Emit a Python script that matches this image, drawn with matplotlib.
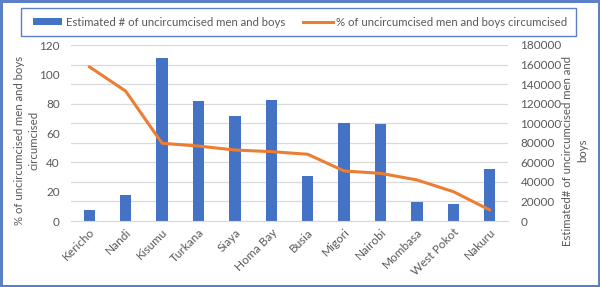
import matplotlib.pyplot as plt
from matplotlib.patches import Patch, Rectangle
from matplotlib.lines import Line2D

counties = ["Kericho", "Nandi", "Kisumu", "Turkana", "Siaya", "Homa Bay", "Busia",
            "Migori", "Nairobi", "Mombasa", "West Pokot", "Nakuru"]
# estimated number of uncircumcised men and boys (right axis)
uncircumcised = [11250, 26800, 167000, 123000, 107000, 123400, 46300,
                 99900, 98900, 19100, 17400, 53500]
# percent of them circumcised (left axis)
pct_circumcised = [105.2, 88.6, 53.0, 51.1, 48.4, 47.3, 45.5, 34.1, 32.5, 28.0, 20.0, 7.5]

plt.rcParams['font.family'] = ['Lato', 'DejaVu Sans']
grey = '#595959'
blue = '#4472C4'
orange = '#ED7D31'
frame_blue = '#5B80C8'

fig = plt.figure(figsize=(6, 2.87), dpi=100)
fig.patch.set_edgecolor(frame_blue)
fig.patch.set_linewidth(2.5)

ax1 = fig.add_axes([71 / 600, 1 - 221 / 287, 437 / 600, 176 / 287])
ax2 = ax1.twinx()

x = list(range(len(counties)))
ax2.bar(x, uncircumcised, width=0.31, color=blue, zorder=2)
ax2.set_ylim(0, 180000)
ax2.set_yticks(range(0, 180001, 20000))
ax2.grid(axis='y', color='#D9D9D9', linewidth=0.9, zorder=0)
ax2.set_axisbelow(True)

ax1.plot(x, pct_circumcised, color=orange, linewidth=2.2, solid_capstyle='round')
ax1.set_zorder(ax2.get_zorder() + 1)
ax1.patch.set_visible(False)
ax1.set_ylim(0, 120)
ax1.set_yticks(range(0, 121, 20))
ax1.set_xlim(-0.5, len(counties) - 0.5)
ax1.set_xticks(x)
ax1.set_xticklabels(counties, rotation=45, ha='right', rotation_mode='anchor')

for ax in (ax1, ax2):
    for s in ax.spines.values():
        s.set_visible(False)
    ax.tick_params(length=0, colors=grey, labelsize=8.5)
ax1.spines['bottom'].set_visible(True)
ax1.spines['bottom'].set_color('#D9D9D9')
ax1.tick_params(axis='y', pad=8)
ax1.tick_params(axis='x', pad=4)
ax2.tick_params(axis='y', pad=9)

ax1.set_ylabel("% of uncircumcised men and boys\ncircumcised", color=grey, fontsize=8.2,
               linespacing=1.4)
ax1.yaxis.set_label_coords(-0.072, 0.46)
ax2.set_ylabel("Estimated# of uncircumcised men and\nboys", color=grey, fontsize=8.2,
               rotation=90, linespacing=1.4)
ax2.yaxis.set_label_coords(1.124, 0.40)

# legend frame drawn separately so the entries can sit centred inside it
fig.patches.append(Rectangle((21 / 600, 1 - 36 / 287), 555 / 600, 28 / 287,
                             transform=fig.transFigure, fill=False,
                             edgecolor=frame_blue, linewidth=1.0))
handles = [Patch(facecolor=blue), Line2D([], [], color=orange, linewidth=2.2)]
labels = ["Estimated # of uncircumcised men and boys",
          "% of uncircumcised men and boys circumcised"]
fig.legend(handles, labels, ncol=2, loc='center',
           bbox_to_anchor=(300 / 600, 1 - 22 / 287),
           fontsize=8.2, frameon=False, handlelength=2.6, handleheight=0.45,
           handletextpad=0.3, columnspacing=1.6, labelcolor=grey)

fig.savefig('out.png', dpi=100, edgecolor=fig.get_edgecolor())
